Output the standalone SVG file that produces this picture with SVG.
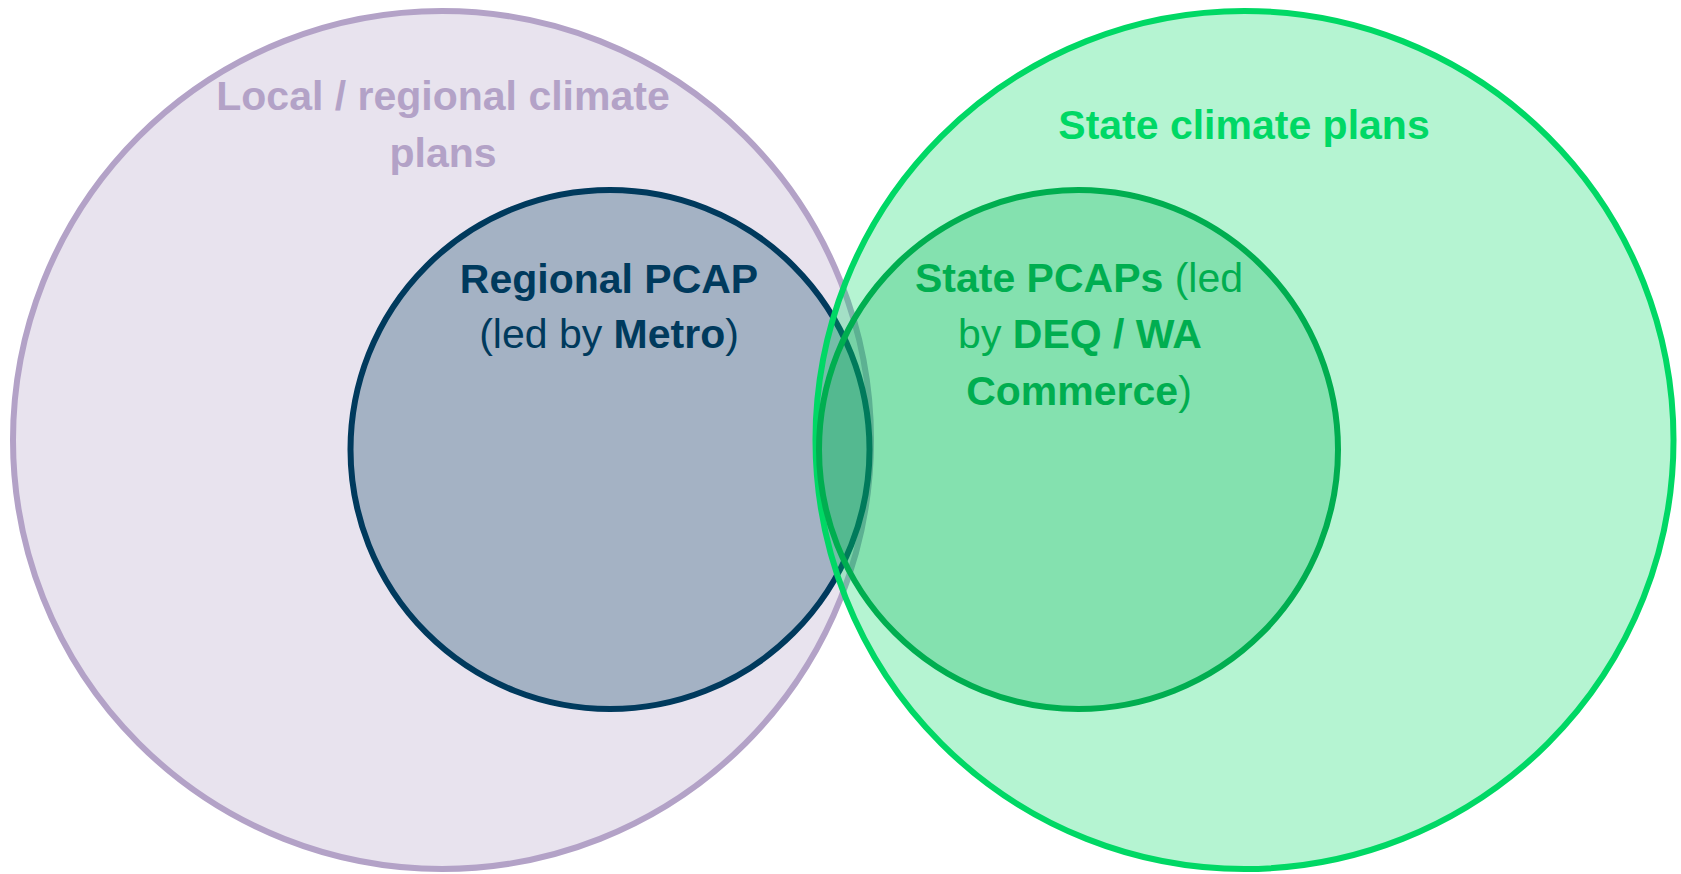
<svg xmlns="http://www.w3.org/2000/svg" width="1681" height="874" viewBox="0 0 1681 874">
<style>
text{font-family:"Liberation Sans",Arial,sans-serif;font-size:41px;text-anchor:middle}
.b{font-weight:bold}
.n{font-weight:normal}
circle{stroke-width:6}
</style>
<rect width="1681" height="874" fill="#ffffff"/>
<g id="local">
<circle cx="442" cy="440" r="429" fill="#B3A2C7" fill-opacity="0.3" stroke="#B3A2C7"/>
<text x="443" y="110" class="b" fill="#B3A2C7">Local / regional climate</text>
<text x="443" y="167" class="b" fill="#B3A2C7">plans</text>
</g>
<g id="regional">
<circle cx="610" cy="449.5" r="259.5" fill="#003A5D" fill-opacity="0.29" stroke="#003A5D"/>
<text x="609" y="293" class="b" fill="#003A5D">Regional PCAP</text>
<text x="609" y="348" fill="#003A5D"><tspan class="n">(led by </tspan><tspan class="b">Metro</tspan><tspan class="n">)</tspan></text>
</g>
<g id="state">
<circle cx="1244.5" cy="440" r="429" fill="#00D865" fill-opacity="0.29" stroke="#00D865"/>
<text x="1244" y="139" class="b" fill="#00D865">State climate plans</text>
</g>
<g id="statepcap">
<circle cx="1078.5" cy="449.5" r="259.5" fill="#00AE50" fill-opacity="0.27" stroke="#00AE50"/>
<text x="1079" y="292" fill="#00AE50"><tspan class="b">State PCAPs</tspan><tspan class="n"> (led</tspan></text>
<text x="1080" y="348" fill="#00AE50"><tspan class="n">by </tspan><tspan class="b">DEQ / WA</tspan></text>
<text x="1079" y="405" fill="#00AE50"><tspan class="b">Commerce</tspan><tspan class="n">)</tspan></text>
</g>
<g id="connectors"/>
</svg>
